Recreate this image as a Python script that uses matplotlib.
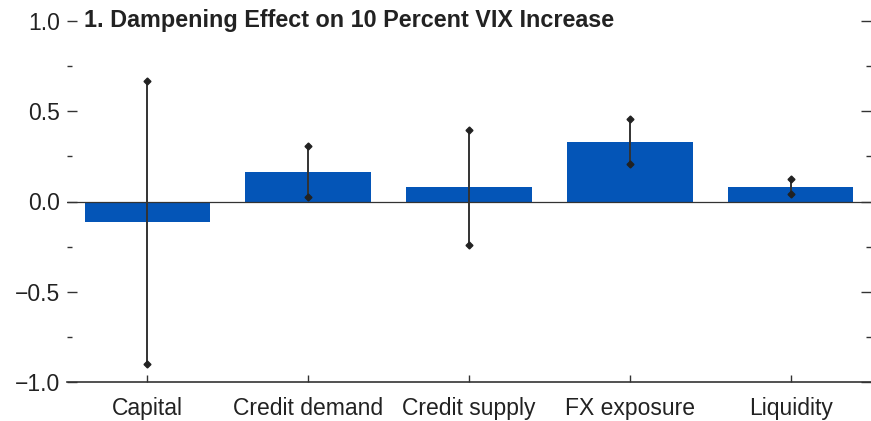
import matplotlib
matplotlib.use("Agg")
import matplotlib.pyplot as plt
import matplotlib.transforms as mtransforms
import numpy as np
from matplotlib.ticker import MultipleLocator, FuncFormatter

plt.rcParams["font.family"] = ["Liberation Sans Narrow", "Liberation Sans", "DejaVu Sans"]

categories = ["Capital", "Credit demand", "Credit supply", "FX exposure", "Liquidity"]
effects = [-0.113, 0.163, 0.079, 0.332, 0.081]
lower = [-0.898, 0.024, -0.239, 0.206, 0.043]
upper = [0.668, 0.307, 0.396, 0.459, 0.126]

bar_color = "#0455B7"
line_color = "#333333"
text_color = "#222222"

fig = plt.figure(figsize=(8.71, 4.21), dpi=100)
ax = fig.add_axes([67 / 871, 39 / 421, 1 - 67 / 871, (382 - 21) / 421])

x = np.arange(len(categories))
eff = np.array(effects)
lo = np.array(lower)
hi = np.array(upper)

ax.bar(x, eff, width=0.78, color=bar_color, zorder=2)
ax.axhline(0, color=line_color, lw=0.9, zorder=3)
ax.errorbar(x, eff, yerr=[eff - lo, hi - eff], fmt="none",
            ecolor=line_color, elinewidth=1.4, capsize=0, zorder=4)
ax.plot(x, lo, "D", color=text_color, ms=3.5, zorder=5)
ax.plot(x, hi, "D", color=text_color, ms=3.5, zorder=5)

ax.set_xlim(-0.5, 4.5)
ax.set_ylim(-1.0, 1.0)
ax.set_xticks(x)
ax.set_xticklabels(categories)
ax.yaxis.set_major_locator(MultipleLocator(0.5))
ax.yaxis.set_minor_locator(MultipleLocator(0.25))
ax.yaxis.set_major_formatter(FuncFormatter(lambda v, p: f"{v:.1f}".replace("-", "\u2212")))

for side in ["top", "left", "right"]:
    ax.spines[side].set_visible(False)
ax.spines["bottom"].set_color(line_color)
ax.spines["bottom"].set_linewidth(1.2)

ax.tick_params(axis="y", which="major", direction="in", length=7, width=1.0,
               color=line_color, left=True, right=True, labelsize=16.5, pad=5)
ax.tick_params(axis="y", which="minor", direction="in", length=3.5, width=1.0,
               color=line_color, left=True, right=True)
ax.tick_params(axis="x", direction="in", length=5, width=1.0, color=line_color,
               labelsize=16.5, pad=11)
for lab in ax.get_yticklabels() + ax.get_xticklabels():
    lab.set_color(text_color)

trans = mtransforms.blended_transform_factory(fig.transFigure, ax.transData)
ax.text(84 / 871, 1.0, "1. Dampening Effect on 10 Percent VIX Increase",
        transform=trans, fontsize=16.8, fontweight="bold",
        va="center", ha="left", color=text_color)

fig.savefig("out.png", dpi=100)
